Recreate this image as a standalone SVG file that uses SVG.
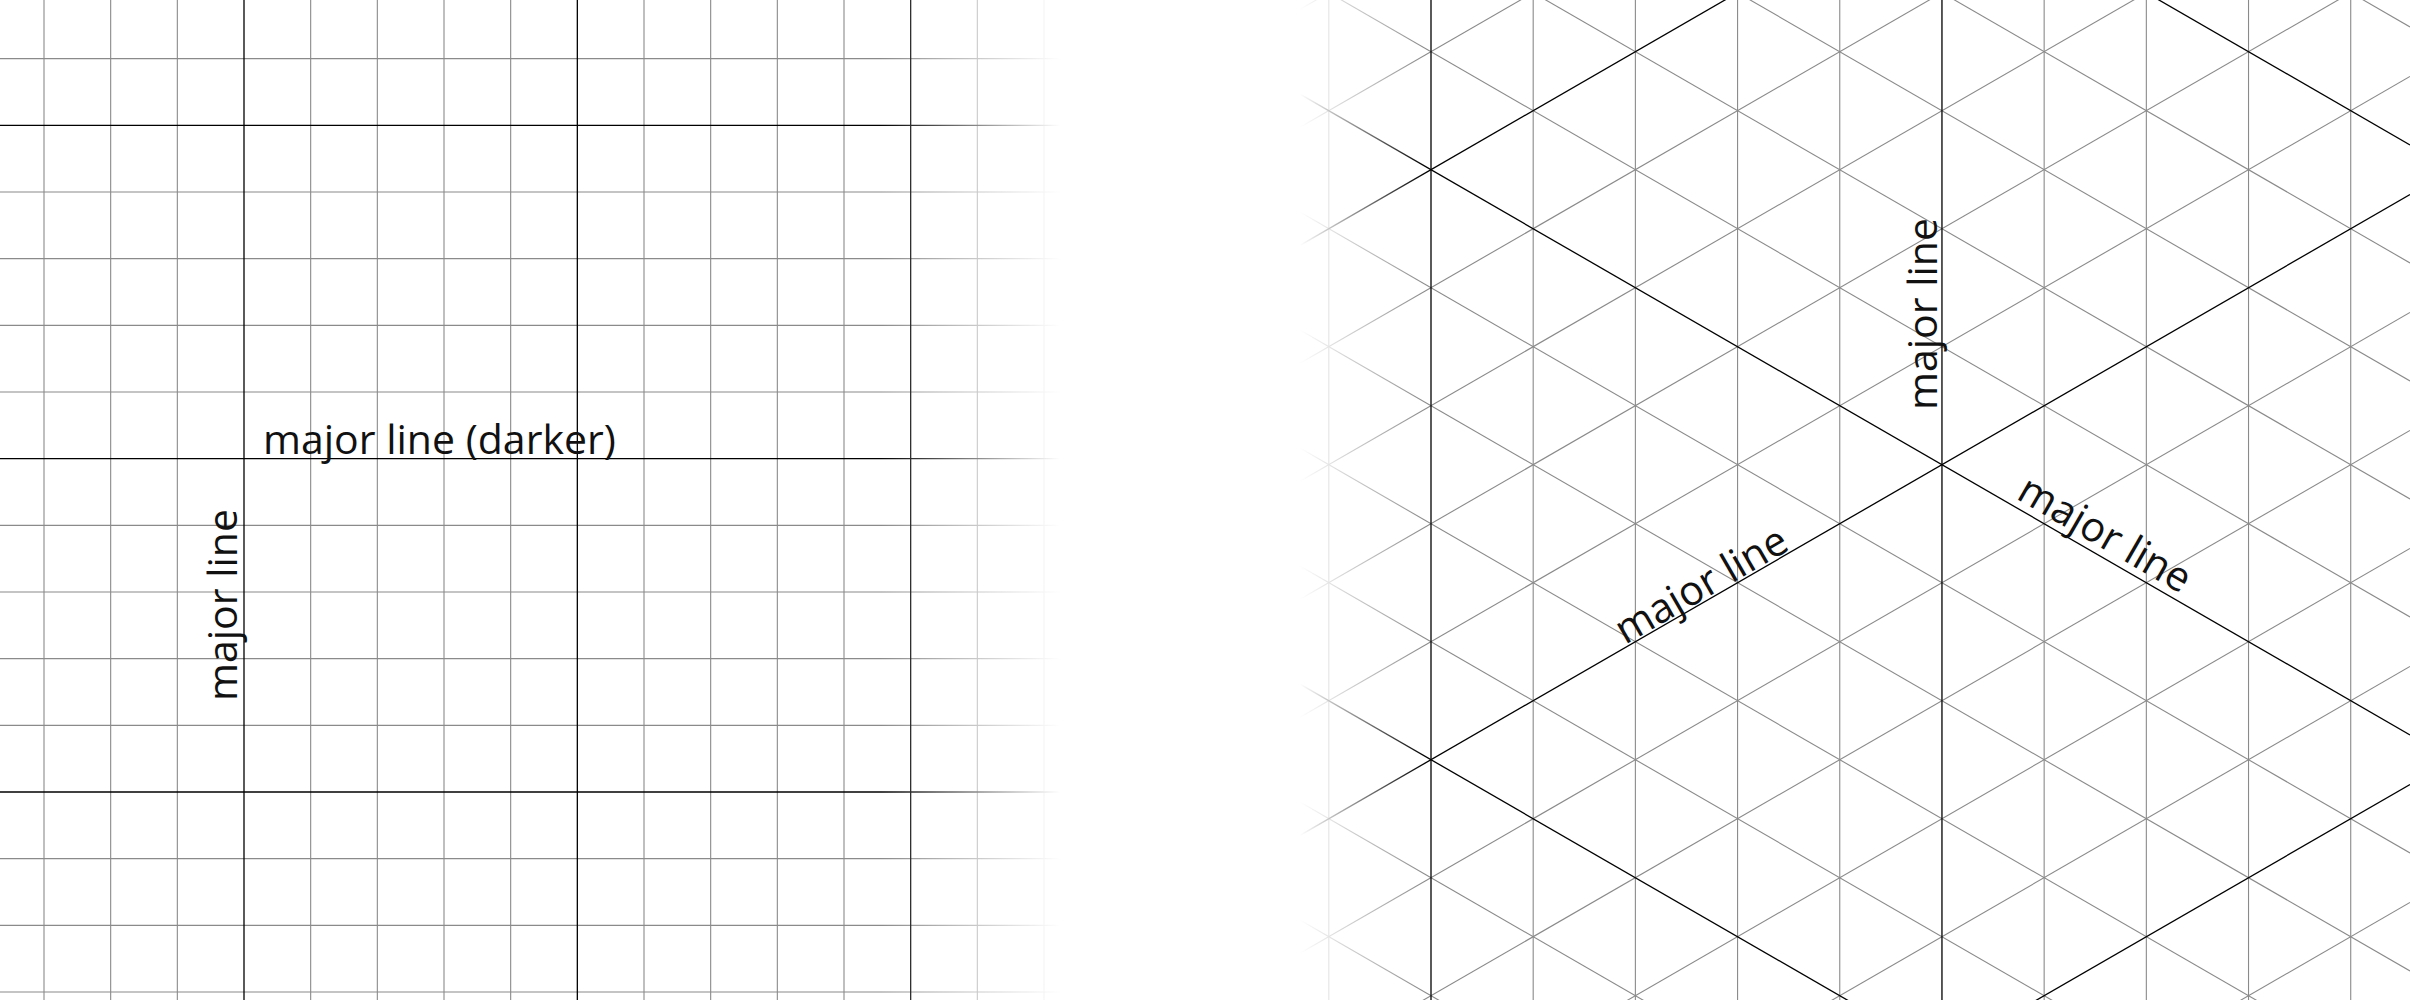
<svg xmlns="http://www.w3.org/2000/svg" width="2410" height="1000" viewBox="0 0 2410 1000">
<style>
.mn{stroke:#8a8a8a;stroke-width:1.1;fill:none}
.mj{stroke:#000;stroke-width:1.3;fill:none}
.lbl{font-family:"Open Sans","Liberation Sans",sans-serif;font-weight:400;font-size:41px;fill:#111}
</style>
<defs>
<linearGradient id="gL" gradientUnits="userSpaceOnUse" x1="880" y1="0" x2="1060" y2="0">
<stop offset="0" stop-color="#fff"/><stop offset="1" stop-color="#000"/>
</linearGradient>
<linearGradient id="gR" gradientUnits="userSpaceOnUse" x1="1300" y1="0" x2="1425" y2="0">
<stop offset="0" stop-color="#000"/><stop offset="1" stop-color="#fff"/>
</linearGradient>
<mask id="mL" maskUnits="userSpaceOnUse" x="0" y="0" width="2410" height="1000">
<rect x="0" y="0" width="1100" height="1000" fill="url(#gL)"/>
</mask>
<mask id="mR" maskUnits="userSpaceOnUse" x="0" y="0" width="2410" height="1000">
<rect x="1290" y="0" width="1120" height="1000" fill="url(#gR)"/>
</mask>
</defs>
<rect width="2410" height="1000" fill="#fff"/>
<g id="square-grid" mask="url(#mL)">
<g class="mn">
<line x1="44" y1="0" x2="44" y2="1000"/>
<line x1="110.67" y1="0" x2="110.67" y2="1000"/>
<line x1="177.33" y1="0" x2="177.33" y2="1000"/>
<line x1="310.67" y1="0" x2="310.67" y2="1000"/>
<line x1="377.33" y1="0" x2="377.33" y2="1000"/>
<line x1="444" y1="0" x2="444" y2="1000"/>
<line x1="510.67" y1="0" x2="510.67" y2="1000"/>
<line x1="644" y1="0" x2="644" y2="1000"/>
<line x1="710.67" y1="0" x2="710.67" y2="1000"/>
<line x1="777.33" y1="0" x2="777.33" y2="1000"/>
<line x1="844" y1="0" x2="844" y2="1000"/>
<line x1="977.33" y1="0" x2="977.33" y2="1000"/>
<line x1="1044" y1="0" x2="1044" y2="1000"/>
<line x1="0" y1="58.67" x2="1060" y2="58.67"/>
<line x1="0" y1="192" x2="1060" y2="192"/>
<line x1="0" y1="258.67" x2="1060" y2="258.67"/>
<line x1="0" y1="325.33" x2="1060" y2="325.33"/>
<line x1="0" y1="392" x2="1060" y2="392"/>
<line x1="0" y1="525.33" x2="1060" y2="525.33"/>
<line x1="0" y1="592" x2="1060" y2="592"/>
<line x1="0" y1="658.67" x2="1060" y2="658.67"/>
<line x1="0" y1="725.33" x2="1060" y2="725.33"/>
<line x1="0" y1="858.67" x2="1060" y2="858.67"/>
<line x1="0" y1="925.33" x2="1060" y2="925.33"/>
<line x1="0" y1="992" x2="1060" y2="992"/>
</g>
<g class="mj">
<line x1="244" y1="0" x2="244" y2="1000"/>
<line x1="577.33" y1="0" x2="577.33" y2="1000"/>
<line x1="910.67" y1="0" x2="910.67" y2="1000"/>
<line x1="0" y1="125.33" x2="1060" y2="125.33"/>
<line x1="0" y1="458.67" x2="1060" y2="458.67"/>
<line x1="0" y1="792" x2="1060" y2="792"/>
</g>
</g>
<g id="iso-grid" mask="url(#mR)">
<g class="mn">
<line x1="1328.81" y1="0" x2="1328.81" y2="1000"/>
<line x1="1533.19" y1="0" x2="1533.19" y2="1000"/>
<line x1="1635.38" y1="0" x2="1635.38" y2="1000"/>
<line x1="1737.57" y1="0" x2="1737.57" y2="1000"/>
<line x1="1839.76" y1="0" x2="1839.76" y2="1000"/>
<line x1="2044.15" y1="0" x2="2044.15" y2="1000"/>
<line x1="2146.34" y1="0" x2="2146.34" y2="1000"/>
<line x1="2248.53" y1="0" x2="2248.53" y2="1000"/>
<line x1="2350.72" y1="0" x2="2350.72" y2="1000"/>
<line x1="1300" y1="-613.93" x2="2410" y2="26.93"/>
<line x1="1300" y1="-377.93" x2="2410" y2="262.93"/>
<line x1="1300" y1="-259.93" x2="2410" y2="380.93"/>
<line x1="1300" y1="-141.93" x2="2410" y2="498.93"/>
<line x1="1300" y1="-23.93" x2="2410" y2="616.93"/>
<line x1="1300" y1="212.07" x2="2410" y2="852.93"/>
<line x1="1300" y1="330.07" x2="2410" y2="970.93"/>
<line x1="1300" y1="448.07" x2="2410" y2="1088.93"/>
<line x1="1300" y1="566.07" x2="2410" y2="1206.93"/>
<line x1="1300" y1="802.07" x2="2410" y2="1442.93"/>
<line x1="1300" y1="920.07" x2="2410" y2="1560.93"/>
<line x1="1300" y1="9.33" x2="2410" y2="-631.53"/>
<line x1="1300" y1="127.33" x2="2410" y2="-513.53"/>
<line x1="1300" y1="363.33" x2="2410" y2="-277.53"/>
<line x1="1300" y1="481.33" x2="2410" y2="-159.53"/>
<line x1="1300" y1="599.33" x2="2410" y2="-41.53"/>
<line x1="1300" y1="717.33" x2="2410" y2="76.47"/>
<line x1="1300" y1="953.33" x2="2410" y2="312.47"/>
<line x1="1300" y1="1071.33" x2="2410" y2="430.47"/>
<line x1="1300" y1="1189.33" x2="2410" y2="548.47"/>
<line x1="1300" y1="1307.33" x2="2410" y2="666.47"/>
<line x1="1300" y1="1543.33" x2="2410" y2="902.47"/>
</g>
<g class="mj">
<line x1="1431" y1="0" x2="1431" y2="1000"/>
<line x1="1941.96" y1="0" x2="1941.96" y2="1000"/>
<line x1="1300" y1="-495.93" x2="2410" y2="144.93"/>
<line x1="1300" y1="94.07" x2="2410" y2="734.93"/>
<line x1="1300" y1="684.07" x2="2410" y2="1324.93"/>
<line x1="1300" y1="245.33" x2="2410" y2="-395.53"/>
<line x1="1300" y1="835.33" x2="2410" y2="194.47"/>
<line x1="1300" y1="1425.33" x2="2410" y2="784.47"/>
</g>
</g>
<g id="labels" class="lbl">
<text x="263" y="454">major line (darker)</text>
<text transform="translate(237,701) rotate(-90)">major line</text>
<text transform="translate(1937,410) rotate(-90)">major line</text>
<text transform="translate(1625,645) rotate(-30)">major line</text>
<text transform="translate(2015,498) rotate(30)">major line</text>
</g>
</svg>
